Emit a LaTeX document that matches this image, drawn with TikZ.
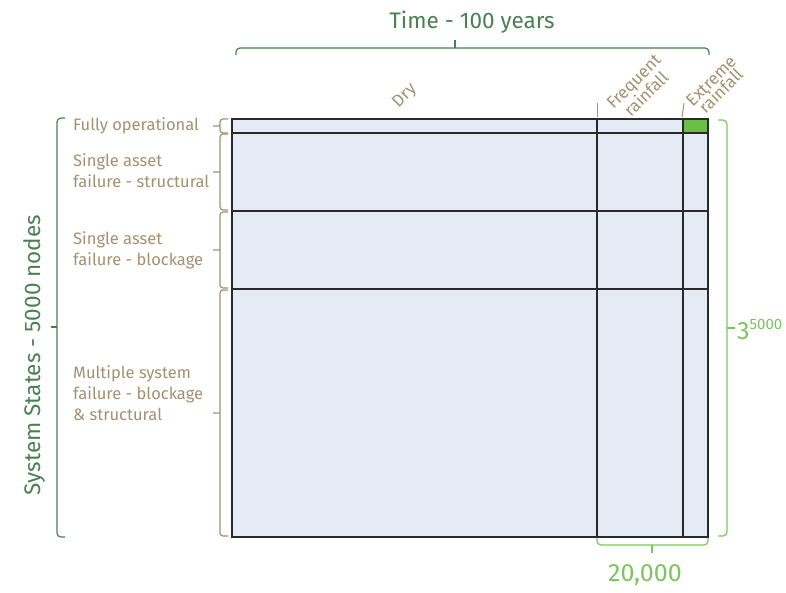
\documentclass[tikz,border=0pt]{standalone}
\usepackage{fontspec}
\setmainfont{Fira Sans}
\definecolor{cellblue}{HTML}{E5EBF5}
\definecolor{gridgray}{HTML}{2A2A2A}
\definecolor{darkgreen}{HTML}{4A7F52}
\definecolor{lightgreen}{HTML}{7DC45E}
\definecolor{cellgreen}{HTML}{6CBF46}
\definecolor{labelbrown}{HTML}{A3906F}
\tikzset{
  gridline/.style={draw=gridgray, line width=1.6pt},
  bracedark/.style={draw=darkgreen, line width=1.2pt, rounded corners=4pt},
  bracelight/.style={draw=lightgreen, line width=1.2pt, rounded corners=4pt},
  bracebrown/.style={draw=labelbrown, line width=1.2pt, rounded corners=3pt},
  rowlabel/.style={text=labelbrown, font=\fontsize{16.5}{21}\selectfont, align=left, anchor=west, inner sep=0pt},
  collabel/.style={text=labelbrown, font=\fontsize{17}{14}\selectfont, align=center, rotate=45, inner sep=0pt}
}
\begin{document}
\begin{tikzpicture}[x=1pt,y=-1pt]
\useasboundingbox (0,0) rectangle (786,592);
\fill[cellblue] (232,119) rectangle (708,537);
\fill[cellgreen] (683,119) rectangle (708,133);
\draw[gridline] (232,119) rectangle (708,537);
\draw[gridline] (232,133)--(708,133);
\draw[gridline] (232,211)--(708,211);
\draw[gridline] (232,289)--(708,289);
\draw[gridline] (597,119)--(597,537);
\draw[gridline] (683,119)--(683,537);
\draw[bracedark] (236,55)--(236,48)--(709,48)--(709,55);
\draw[bracedark] (455,48)--(455,40);
\node[text=darkgreen, font=\fontsize{22.5}{22.5}\selectfont] (time) at (472,22) {Time - 100 years};
\draw[bracedark] (65,118)--(57,118)--(57,537)--(65,537);
\draw[bracedark] (57,327)--(51,327);
\node[text=darkgreen, font=\fontsize{22.5}{22.5}\selectfont, rotate=90] (states) at (34,355) {System States - 5000 nodes};
\draw[bracelight] (718,120)--(727,120)--(727,536)--(718,536);
\draw[bracelight] (727,328)--(735,328);
\node[text=lightgreen, anchor=west, inner sep=0pt, font=\fontsize{25}{25}\selectfont] (combos) at (737,330) {3\raisebox{10pt}{\fontsize{15}{15}\selectfont 5000}};
\draw[bracelight] (597,538)--(597,545)--(708,545)--(708,538);
\draw[bracelight] (652,545)--(652,553);
\node[text=lightgreen, font=\fontsize{25}{25}\selectfont] (steps) at (645,575) {20,000};
\foreach \a/\b in {119/133,134/210,212/288,290/536}
  \draw[bracebrown] (228,\a)--(220,\a)--(220,\b)--(228,\b) (220,{(\a+\b)/2})--(213,{(\a+\b)/2});
\node[rowlabel] (fullop) at (73,126) {Fully operational};
\node[rowlabel] (single1) at (73,171) {Single asset\\failure - structural};
\node[rowlabel] (single2) at (73,250) {Single asset\\failure - blockage};
\node[rowlabel] (multi) at (73,393) {Multiple system\\failure - blockage\\\& structural};
\draw[labelbrown, line width=1pt] (597,103)--(597,117);
\draw[labelbrown, line width=1pt] (684,103)--(682,117);
\node[collabel] (dry) at (405,96) {Dry};
\node[collabel] (freq) at (640,88) {Frequent\\rainfall};
\node[collabel] (extreme) at (716,86) {Extreme\\rainfall};
\end{tikzpicture}
\end{document}
